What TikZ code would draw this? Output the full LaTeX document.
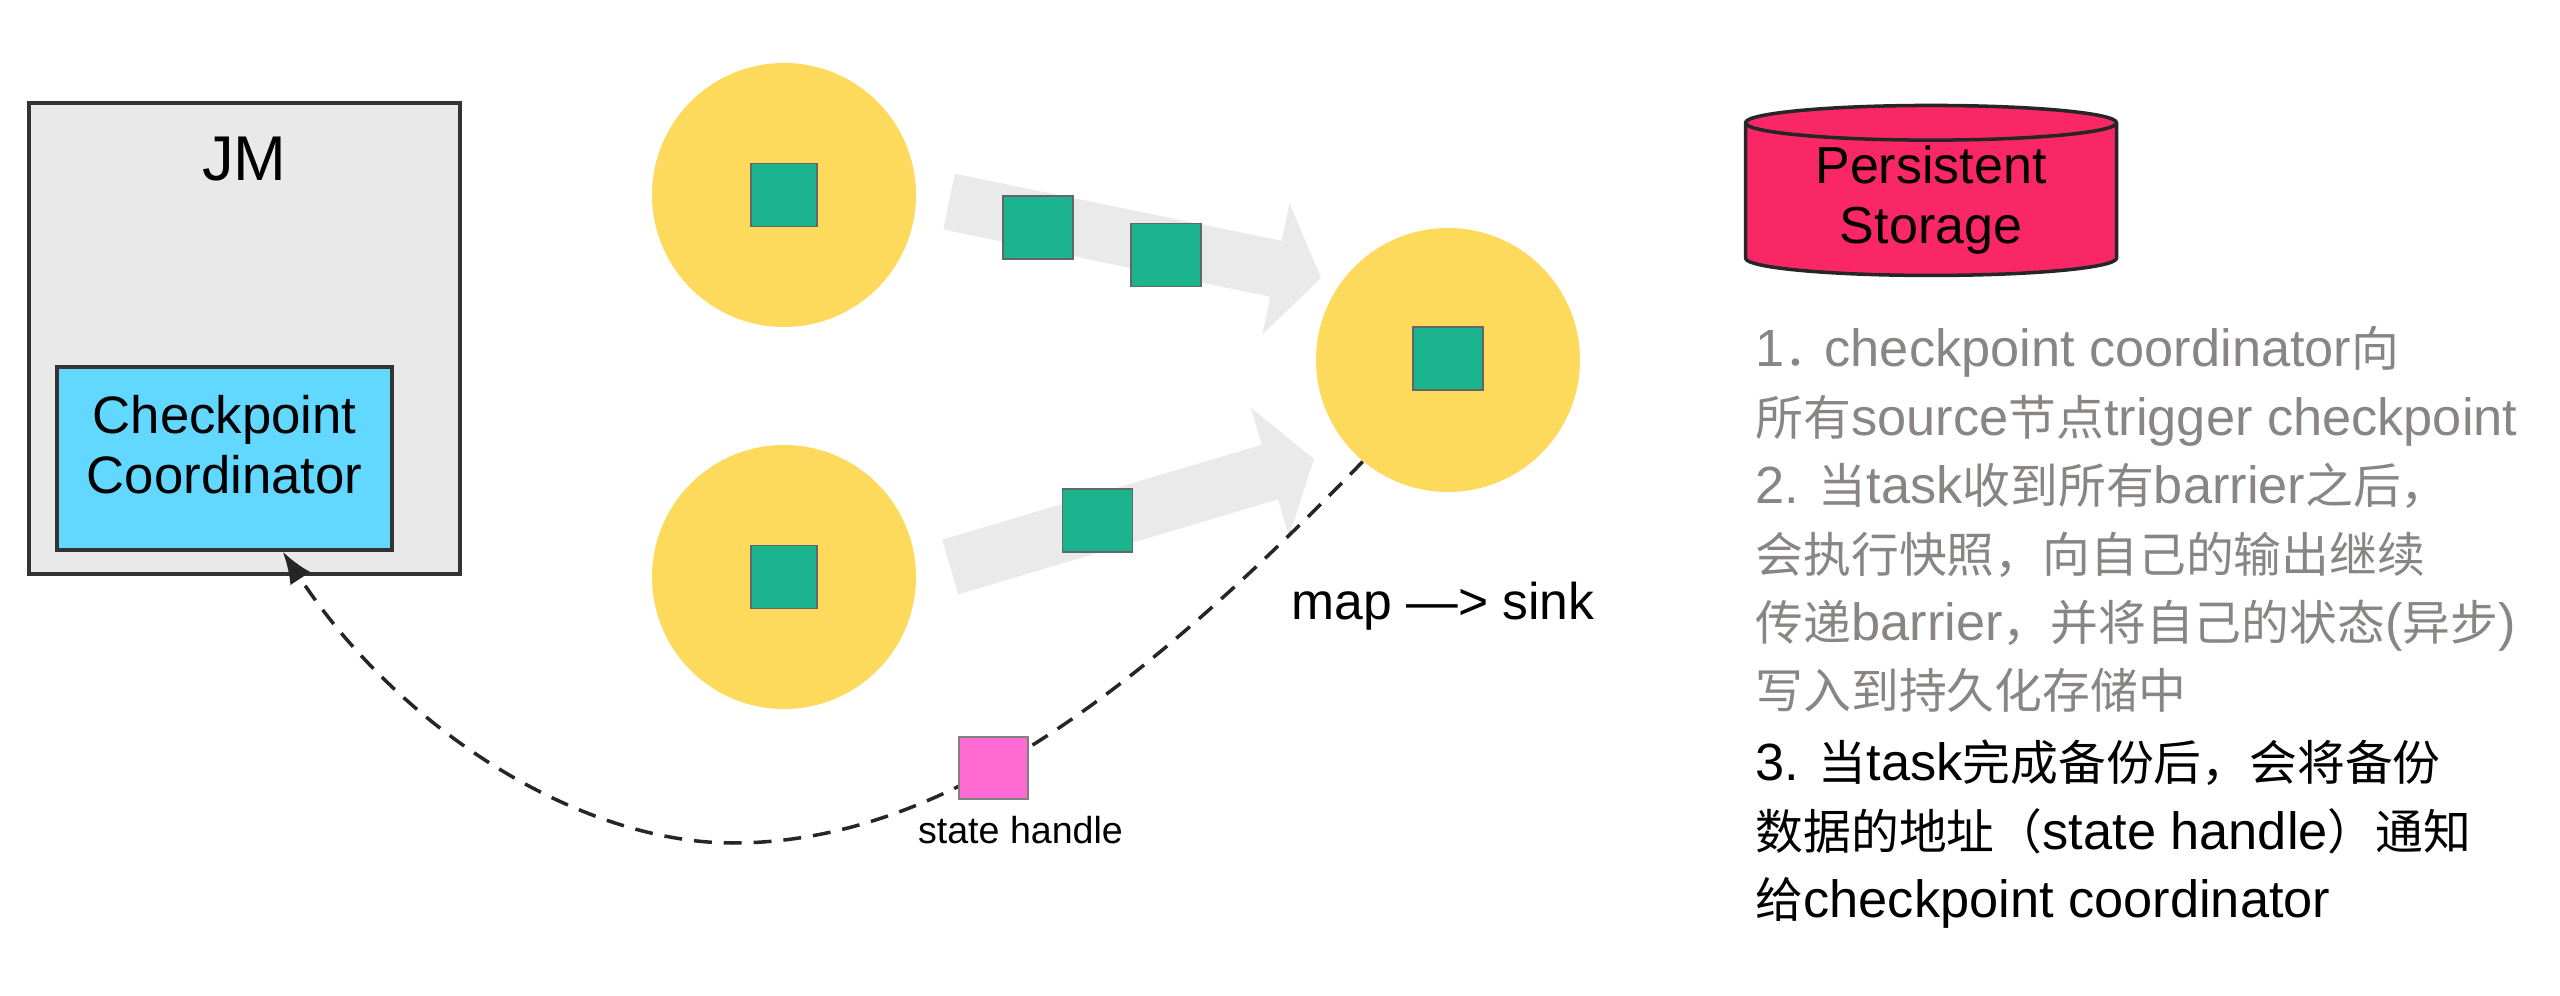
\documentclass[tikz,border=0pt]{standalone}
\usepackage{fontspec}
\setmainfont{Liberation Sans}
\setsansfont{Liberation Sans}
\newfontfamily\cjk[Scale=0.913]{Noto Sans CJK SC}
\newcommand{\zh}[1]{{\cjk #1}}
\usetikzlibrary{arrows.meta,calc,positioning,shapes.geometric}
\definecolor{boxgray}{HTML}{E9E9E9}
\definecolor{flowgray}{HTML}{EAEAEA}
\definecolor{coordblue}{HTML}{62D7FF}
\definecolor{taskyellow}{HTML}{FDDA5C}
\definecolor{tokengreen}{HTML}{1CB48F}
\definecolor{handlepink}{HTML}{FF6BD3}
\definecolor{storered}{HTML}{FA2766}
\definecolor{notegray}{HTML}{8A8585}

\begin{document}
\begin{tikzpicture}[>=latex, font=\sffamily,
    task/.style={circle, fill=taskyellow, minimum size=2.64cm, inner sep=0pt},
    token/.style={rectangle, draw=black!60, line width=0.5pt, fill=tokengreen, minimum width=0.70cm, minimum height=0.63cm, inner sep=0pt},
    flow/.style={draw=flowgray, line width=0.57cm, -{Triangle[length=0.46cm,width=1.32cm]}},
    note/.style={anchor=north west, align=left, inner sep=0pt, font=\fontsize{14.9}{19.45}\selectfont}]
    \useasboundingbox (0,0) rectangle (25.6,9.96);

    % JM
    \node[draw=black!80, line width=1pt, fill=boxgray, minimum width=4.31cm, minimum height=4.71cm] (jm) at (2.445,6.575) {};
    \node[below=0.23cm of jm.north, font=\fontsize{18}{20}\selectfont] (jmlabel) {JM};
    \node[draw=black!80, line width=1pt, fill=coordblue, minimum width=3.35cm, minimum height=1.83cm] (cc) at (2.245,5.375) {};
    \node[align=center, font=\fontsize{15}{17}\selectfont] (cclabel) at (2.245,5.51) {Checkpoint\\Coordinator};

    % Task
    \node[task] (src1) at (7.84,8.01) {};
    \node[task] (src2) at (7.84,4.19) {};
    \node[task] (sink) at (14.48,6.36) {};

    % Flussi
    \coordinate (tipa) at (13.21,7.18);
    \coordinate (tipb) at (13.14,5.37);
    \draw[flow, shorten <=0.33cm] (src1.east) -- (tipa);
    \draw[flow, shorten <=0.35cm] (src2.east) -- (tipb);

    % Barrier
    \node[token, minimum width=0.66cm] (tsrc1) at (src1) {};
    \node[token, minimum width=0.66cm] (tsrc2) at (src2) {};
    \node[token] (tsink) at (14.48,6.375) {};
    \node[token] (ta) at (10.38,7.685) {};
    \node[token] (tb) at (11.66,7.41) {};
    \node[token] (tc) at (10.975,4.755) {};
    \node[font=\fontsize{14.7}{17}\selectfont] (maplabel) at (14.43,3.90) {map —> sink};

    % State handle
    \coordinate (low) at (7.33,1.53);
    \draw[black!85, line width=1pt, dash pattern=on 5.1pt off 3.4pt, -{Latex[length=0.32cm,width=0.24cm]}] (sink.230)
        .. controls (11.50,3.16) and (9.50,1.53) .. (low)
        .. controls (5.80,1.53) and (4.00,2.66) .. (cc.-58);
    \node[draw=black!50, line width=0.5pt, fill=handlepink, minimum width=0.69cm, minimum height=0.62cm, inner sep=0pt] (handle) at (9.935,2.28) {};
    \node[below=0.16cm of handle, xshift=0.27cm, font=\fontsize{10.7}{12}\selectfont, inner sep=0pt] (handlelabel) {state handle};

    % Storage
    \node[cylinder, shape border rotate=90, aspect=0.15, draw=black!85, line width=1pt, fill=storered, minimum width=3.71cm, minimum height=1.70cm, align=center, font=\fontsize{14.8}{17}\selectfont, inner sep=0pt] (store) at (19.31,7.96) {Persistent\\Storage};

    % Note
    \node[note, text=notegray] (stepsgray) at (17.55,6.70) {1\zh{．}\hspace{-0.08cm}checkpoint coordinator\zh{向}\\
        \zh{所有}source\zh{节点}trigger checkpoint\\
        2. \zh{当}task\zh{收到所有}barrier\zh{之后，}\\
        \zh{会执行快照，向自己的输出继续}\\
        \zh{传递}barrier\zh{，并将自己的状态}(\zh{异步})\\
        \zh{写入到持久化存储中}};
    \node[note, text=black] (stepsblack) at ($(stepsgray.south west)+(0,-0.26)$) {3. \zh{当}task\zh{完成备份后，会将备份}\\
        \zh{数据的地址（}state handle\zh{）通知}\\
        \zh{给}checkpoint coordinator};
\end{tikzpicture}
\end{document}
